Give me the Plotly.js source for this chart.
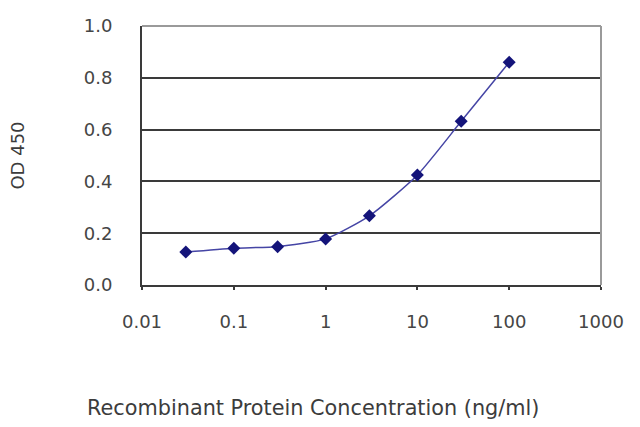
<!DOCTYPE html>
<html>
<head>
<meta charset="utf-8">
<script src="https://cdn.plot.ly/plotly-3.0.1.min.js"></script>
<style>
  html, body { margin: 0; padding: 0; background: #fff; }
  #chart { width: 640px; height: 427px; }
</style>
</head>
<body>
<div id="chart"></div>
<script>
const concentration = [0.03, 0.1, 0.3, 1, 3, 10, 30, 100];
const od450 = [0.127, 0.142, 0.148, 0.178, 0.267, 0.425, 0.632, 0.860];
const xTickVals = [0.01, 0.1, 1, 10, 100, 1000];
const xTickText = ['0.01', '0.1', '1', '10', '100', '1000'];
const yTickVals = [0, 0.2, 0.4, 0.6, 0.8, 1.0];
const yTickText = ['0.0', '0.2', '0.4', '0.6', '0.8', '1.0'];
const xTitle = 'Recombinant Protein Concentration (ng/ml)';
const yTitle = 'OD 450';

const font = {family: 'DejaVu Sans, Verdana, sans-serif', color: '#454545', size: 18};

Plotly.newPlot('chart', [{
  type: 'scatter', mode: 'lines+markers',
  x: concentration, y: od450,
  line: {color: '#4545a5', width: 1.5, shape: 'spline', smoothing: 0.6},
  marker: {symbol: 'diamond', size: 10, color: '#14147a'},
  hoverinfo: 'skip',
}], {
  width: 640, height: 427,
  margin: {l: 142, r: 39, t: 26, b: 142},
  paper_bgcolor: '#fff', plot_bgcolor: '#fff',
  font: font,
  showlegend: false,
  xaxis: {
    type: 'log', range: [-2, 3],
    tickvals: xTickVals, ticktext: xTickText,
    showgrid: false, zeroline: false,
    showline: true, linecolor: '#3a3a3a', linewidth: 2,
    ticks: 'outside', ticklen: 3, tickcolor: '#3a3a3a', tickwidth: 2,
    ticklabelstandoff: 16,
    tickfont: font,
  },
  yaxis: {
    range: [0, 1.0],
    tickvals: yTickVals, ticktext: yTickText,
    showgrid: true, gridcolor: '#3a3a3a', gridwidth: 2,
    zeroline: false,
    showline: true, linecolor: '#3a3a3a', linewidth: 2,
    ticks: '', ticklabelstandoff: 24,
    tickfont: font,
    title: {text: yTitle, standoff: 54,
            font: {family: font.family, size: 18, color: '#3c3c3c'}},
  },
  annotations: [{
    // x title sits left of the plot centre in the original
    text: xTitle, xref: 'paper', yref: 'paper',
    x: 0.3725, y: -0.475, xanchor: 'center', yanchor: 'middle',
    showarrow: false,
    font: {family: font.family, size: 20.8, color: '#3c3c3c'},
  }],
  shapes: [
    {type: 'line', xref: 'paper', yref: 'paper', x0: 0, x1: 1, y0: 1, y1: 1,
     line: {color: '#9a9a9a', width: 2}},
    {type: 'line', xref: 'paper', yref: 'paper', x0: 1, x1: 1, y0: 0, y1: 1,
     line: {color: '#9a9a9a', width: 2}},
  ],
}, {displayModeBar: false, staticPlot: true});
</script>
</body>
</html>
